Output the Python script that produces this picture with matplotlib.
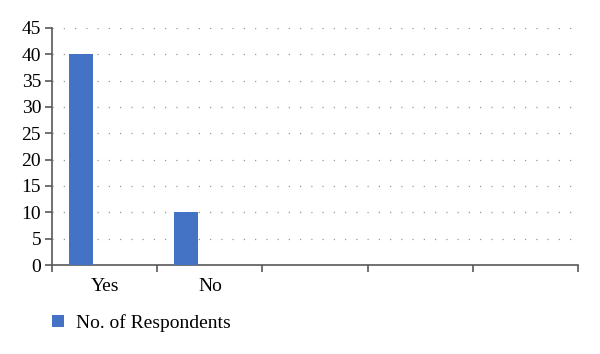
import matplotlib.pyplot as plt
import numpy as np

plt.rcParams['font.family'] = ['Liberation Serif', 'DejaVu Serif']

# data
categories = ['Yes', 'No', '', '', '']
respondents = [40, 10, 0, 0, 0]

fig = plt.figure(figsize=(6, 3.54), dpi=100)
ax = fig.add_axes([0.087, 0.2514, 0.876, 0.6696])

pos = np.arange(len(categories))
bars = ax.bar(pos - 0.224, respondents, width=0.23, color='#4472C4',
              label='No. of Respondents', zorder=3)

ax.set_xlim(-0.5, len(categories) - 0.5)
ax.set_ylim(0, 45)
ax.set_yticks(np.arange(0, 46, 5))

# category boundaries as major ticks, labels on minor ticks at centers
ax.set_xticks(np.arange(len(categories) + 1) - 0.5)
ax.set_xticklabels([])
ax.set_xticks(pos, minor=True)
ax.set_xticklabels(categories, minor=True)
ax.tick_params(axis='x', which='minor', length=0, pad=9, labelsize=14)
ax.tick_params(axis='x', which='major', length=5, width=1.2, color='#595959')
ax.tick_params(axis='y', length=5, width=1.2, color='#595959', labelsize=14, pad=3)

ax.yaxis.grid(True, linestyle=(0, (1, 8)), color='#9a9a9a', linewidth=0.9, zorder=0)
for s in ['top', 'right']:
    ax.spines[s].set_visible(False)
for s in ['left', 'bottom']:
    ax.spines[s].set_color('#595959')
    ax.spines[s].set_linewidth(1.2)

fig.legend(handles=[bars], loc='center left', bbox_to_anchor=(0.087, 0.088),
           frameon=False, fontsize=14, handlelength=0.6, handleheight=0.6,
           handletextpad=0.6, borderpad=0, borderaxespad=0)

fig.savefig('out.png', dpi=100)
